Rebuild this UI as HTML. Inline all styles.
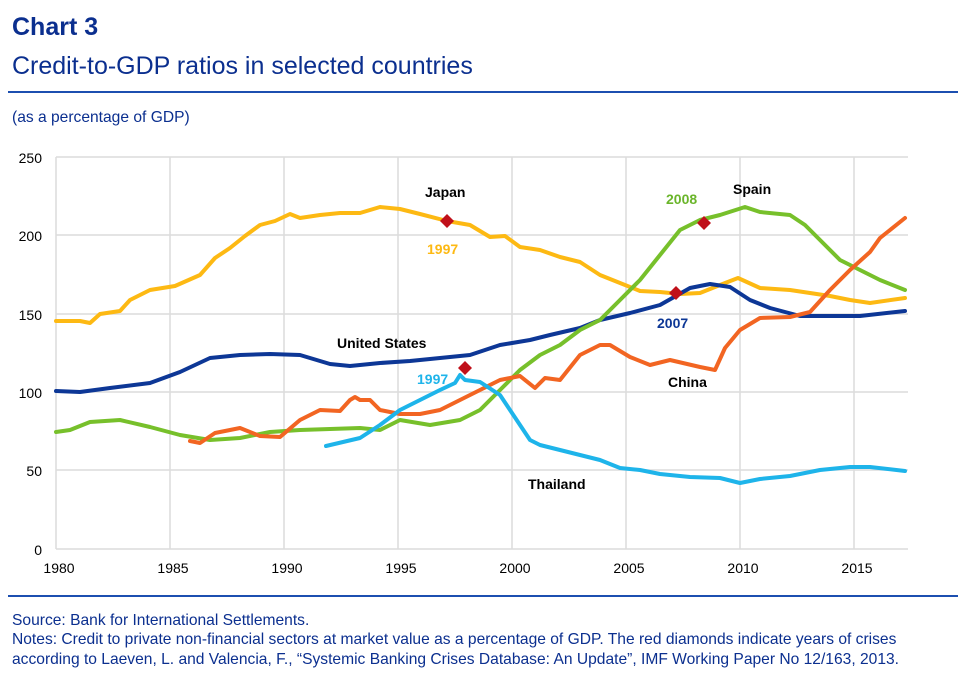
<!DOCTYPE html>
<html><head><style>
body{margin:0;background:#fff;width:966px;height:684px;overflow:hidden;font-family:"Liberation Sans",Arial,sans-serif}
</style></head><body>
<svg width="966" height="684" xmlns="http://www.w3.org/2000/svg" font-family="Liberation Sans, Arial, sans-serif">
<text x="12" y="35" font-size="25" font-weight="bold" fill="#0b2f8f">Chart 3</text>
<text x="12" y="74" font-size="25" fill="#0b2f8f">Credit-to-GDP ratios in selected countries</text>
<line x1="8" y1="92" x2="958" y2="92" stroke="#1c4fb0" stroke-width="2"/>
<text x="12" y="122" font-size="15.6" fill="#0b2f8f">(as a percentage of GDP)</text>
<g stroke="#dcdcdc" stroke-width="1.5">
<line x1="56" y1="157" x2="908" y2="157"/><line x1="56" y1="235" x2="908" y2="235"/><line x1="56" y1="314" x2="908" y2="314"/><line x1="56" y1="392" x2="908" y2="392"/><line x1="56" y1="470" x2="908" y2="470"/><line x1="56" y1="549" x2="908" y2="549"/>
<line x1="56" y1="157" x2="56" y2="549"/><line x1="170" y1="157" x2="170" y2="549"/><line x1="284" y1="157" x2="284" y2="549"/><line x1="398" y1="157" x2="398" y2="549"/><line x1="512" y1="157" x2="512" y2="549"/><line x1="626" y1="157" x2="626" y2="549"/><line x1="740" y1="157" x2="740" y2="549"/><line x1="854" y1="157" x2="854" y2="549"/>
</g>
<g font-size="14" fill="#000" text-anchor="end">
<text x="42" y="163">250</text><text x="42" y="241">200</text><text x="42" y="320">150</text><text x="42" y="398">100</text><text x="42" y="476">50</text><text x="42" y="555">0</text>
</g>
<g font-size="14" fill="#000" text-anchor="middle">
<text x="59" y="573">1980</text><text x="173" y="573">1985</text><text x="287" y="573">1990</text><text x="401" y="573">1995</text><text x="515" y="573">2000</text><text x="629" y="573">2005</text><text x="743" y="573">2010</text><text x="857" y="573">2015</text>
</g>
<g fill="none" stroke-width="4" stroke-linejoin="round" stroke-linecap="round">
<polyline stroke="#fdb913" points="56,321 80,321 90,323 100,314 120,311 130,300 150,290 175,286 200,275 215,258 230,248 245,236 260,225 275,221 290,214 300,218 320,215 340,213 360,213 380,207 400,209 420,214 447,221 470,225 490,237 505,236 520,247 540,250 560,257 580,262 600,275 620,283 640,291 660,292 680,294 700,293 720,285 738,278 760,288 790,290 810,293 830,296 850,300 870,303 905,298"/>
<polyline stroke="#0d3796" points="56,391 80,392 110,388 150,383 180,372 210,358 240,355 270,354 300,355 330,364 350,366 380,363 410,361 440,358 470,355 500,345 530,340 550,335 580,328 600,320 630,313 660,305 690,288 710,284 730,287 750,300 770,308 800,316 830,316 860,316 905,311"/>
<polyline stroke="#77c02b" points="56,432 70,430 90,422 120,420 150,427 180,435 210,440 240,438 270,432 300,430 330,429 360,428 380,430 400,420 430,425 460,420 480,410 500,390 520,370 540,355 560,345 580,330 600,320 620,300 640,280 660,255 680,230 700,220 720,215 745,207 760,212 790,215 805,225 820,240 840,260 860,270 880,280 905,290"/>
<polyline stroke="#f26522" points="190,441 200,443 215,433 240,428 260,436 280,437 300,420 320,410 340,411 350,400 355,397 360,400 370,400 380,410 400,414 420,414 440,410 460,400 480,390 500,380 520,376 535,388 545,378 560,380 580,355 600,345 610,345 630,357 650,365 670,360 700,367 715,370 725,348 740,330 760,318 790,317 810,312 830,290 850,270 870,252 880,238 905,218"/>
<polyline stroke="#1eb4ea" points="326,446 360,438 380,425 400,410 420,400 440,390 455,383 460,375 465,380 480,382 500,395 510,410 520,425 530,440 540,445 560,450 580,455 600,460 620,468 640,470 660,474 690,477 720,478 740,483 760,479 790,476 820,470 850,467 870,467 905,471"/>
</g>
<g fill="#c0101a">
<polygon points="447,214 454,221 447,228 440,221"/>
<polygon points="676,286 683,293 676,300 669,293"/>
<polygon points="465,361 472,368 465,375 458,368"/>
<polygon points="704,216 711,223 704,230 697,223"/>
</g>
<g font-size="14" font-weight="bold">
<text x="425" y="197" fill="#000">Japan</text>
<text x="427" y="254" fill="#fdb913">1997</text>
<text x="666" y="204" fill="#6ab52a">2008</text>
<text x="733" y="194" fill="#000">Spain</text>
<text x="657" y="328" fill="#0d3796">2007</text>
<text x="337" y="348" fill="#000">United States</text>
<text x="417" y="384" fill="#1eb4ea">1997</text>
<text x="668" y="387" fill="#000">China</text>
<text x="528" y="489" fill="#000">Thailand</text>
</g>
<line x1="8" y1="596" x2="958" y2="596" stroke="#1c4fb0" stroke-width="2"/>
<g font-size="15.6" fill="#0b2f8f">
<text x="12" y="625">Source: Bank for International Settlements.</text>
<text x="12" y="644">Notes: Credit to private non-financial sectors at market value as a percentage of GDP. The red diamonds indicate years of crises</text>
<text x="12" y="664">according to Laeven, L. and Valencia, F., “Systemic Banking Crises Database: An Update”, IMF Working Paper No 12/163, 2013.</text>
</g>
</svg>
</body></html>
